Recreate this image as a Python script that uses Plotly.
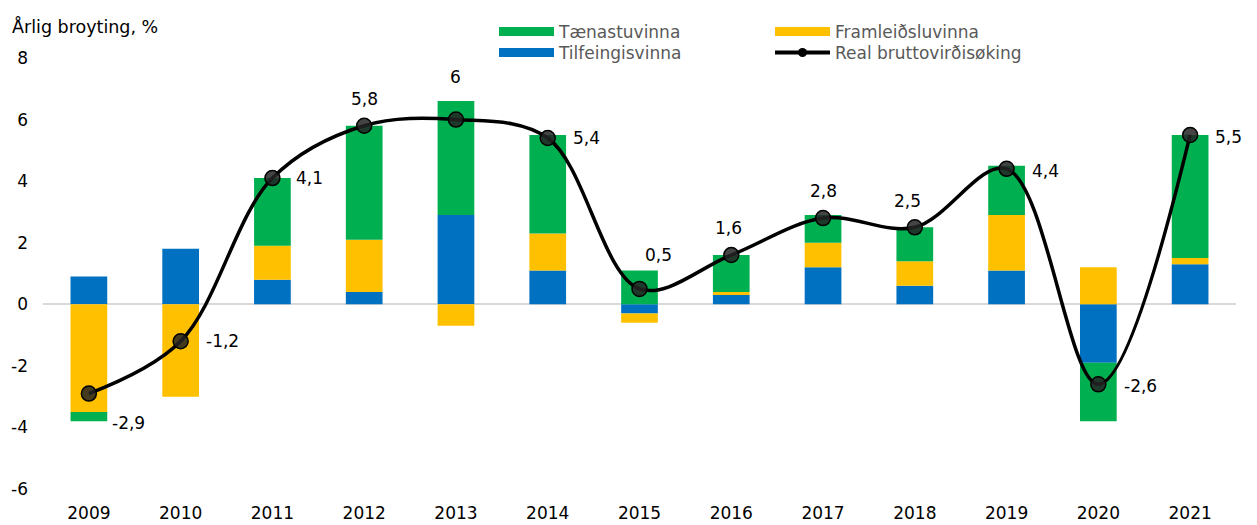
import plotly.graph_objects as go

years = ["2009", "2010", "2011", "2012", "2013", "2014", "2015", "2016", "2017", "2018", "2019", "2020", "2021"]
tilfeingisvinna = [0.9, 1.8, 0.8, 0.4, 2.9, 1.1, -0.3, 0.3, 1.2, 0.6, 1.1, -1.9, 1.3]
framleidsluvinna = [-3.5, -3.0, 1.1, 1.7, -0.7, 1.2, -0.3, 0.1, 0.8, 0.8, 1.8, 1.2, 0.2]
taenastuvinna = [-0.3, 0.0, 2.2, 3.7, 3.7, 3.2, 1.1, 1.2, 0.9, 1.1, 1.6, -1.9, 4.0]
real_vokstur = [-2.9, -1.2, 4.1, 5.8, 6.0, 5.4, 0.5, 1.6, 2.8, 2.5, 4.4, -2.6, 5.5]
label_text = ["-2,9", "-1,2", "4,1", "5,8", "6", "5,4", "0,5", "1,6", "2,8", "2,5", "4,4", "-2,6", "5,5"]
y_ticks = [-6, -4, -2, 0, 2, 4, 6, 8]

# label offsets in pixels (layout only)
label_dx = [40, 42, 37, 0, 0, 39, 19, -3, 0, -7, 39, 42, 38]
label_dy = [-29, 0, 0, 27, 43, 0, 34, 27, 27, 26, -2, -2, -2]

GREEN = "#00B050"
YELLOW = "#FFC000"
BLUE = "#0070C0"
FONT = "DejaVu Sans"

fig = go.Figure()
fig.add_trace(go.Bar(x=years, y=tilfeingisvinna, marker=dict(color=BLUE, line=dict(width=0)), showlegend=False, name="Tilfeingisvinna"))
fig.add_trace(go.Bar(x=years, y=framleidsluvinna, marker=dict(color=YELLOW, line=dict(width=0)), showlegend=False, name="Framleiðsluvinna"))
fig.add_trace(go.Bar(x=years, y=taenastuvinna, marker=dict(color=GREEN, line=dict(width=0)), showlegend=False, name="Tænastuvinna"))
fig.add_trace(go.Scatter(
    x=years, y=real_vokstur, mode="lines+markers",
    line=dict(color="black", width=3.5, shape="spline", smoothing=1.0),
    marker=dict(size=15, color="rgba(35,35,35,0.85)", line=dict(color="black", width=1.5)),
    showlegend=False, name="Real bruttovirðisøking"))

# legend entries
fig.add_trace(go.Scatter(x=[None], y=[None], mode="lines", line=dict(color=GREEN, width=9), name="Tænastuvinna", legend="legend"))
fig.add_trace(go.Scatter(x=[None], y=[None], mode="lines", line=dict(color=YELLOW, width=9), name="Framleiðsluvinna", legend="legend2"))
fig.add_trace(go.Scatter(x=[None], y=[None], mode="lines", line=dict(color=BLUE, width=9), name="Tilfeingisvinna", legend="legend3"))
fig.add_trace(go.Scatter(x=[None], y=[None], mode="lines+markers", line=dict(color="black", width=4),
                         marker=dict(size=9, color="black"), name="Real bruttovirðisøking", legend="legend4"))

# the page places the figure 8px in from the top-left corner
W, H = 1249, 517
legend_common = dict(orientation="v", xanchor="left", yanchor="top", itemwidth=55,
                     xref="container", yref="container",
                     font=dict(family=FONT, size=17, color="#595959"), bgcolor="rgba(0,0,0,0)",
                     tracegroupgap=0)
col1, col2 = 486 / W, 762 / W
row1, row2 = 1 - 6 / H, 1 - 27 / H

annotations = [dict(text="Årlig broyting, %", xref="paper", yref="paper",
                    x=-33 / 1193, y=1 + 31 / 431, xanchor="left", yanchor="middle", showarrow=False,
                    font=dict(family=FONT, size=17.5, color="black"))]
for i, (v, t, dx, dy) in enumerate(zip(real_vokstur, label_text, label_dx, label_dy)):
    annotations.append(dict(x=i, y=v, xref="x", yref="y", text=t, showarrow=False,
                            xshift=dx, yshift=dy, xanchor="center", yanchor="middle",
                            font=dict(family=FONT, size=17, color="black")))

fig.update_layout(
    width=W, height=H,
    margin=dict(l=35, r=21, t=50, b=36, autoexpand=False),
    paper_bgcolor="white", plot_bgcolor="white",
    barmode="relative", bargap=0.6,
    font=dict(family=FONT, size=17, color="black"),
    legend=dict(x=col1, y=row1, **legend_common),
    legend2=dict(x=col2, y=row1, **legend_common),
    legend3=dict(x=col1, y=row2, **legend_common),
    legend4=dict(x=col2, y=row2, **legend_common),
    xaxis=dict(type="category", categoryorder="array", categoryarray=years,
               range=[-0.5, len(years) - 0.5], autorange=False,
               showgrid=False, showline=False, ticks="", automargin=False,
               ticklabelstandoff=12, tickfont=dict(family=FONT, size=17, color="black")),
    yaxis=dict(range=[-6, 8], autorange=False, tickvals=y_ticks, ticktext=[str(v) for v in y_ticks],
               showgrid=False, zeroline=True, zerolinecolor="#D9D9D9", zerolinewidth=1.5,
               showline=False, ticks="", ticklabelstandoff=14, automargin=False,
               tickfont=dict(family=FONT, size=17, color="black")),
    annotations=annotations,
)

fig.write_html("out.html")
